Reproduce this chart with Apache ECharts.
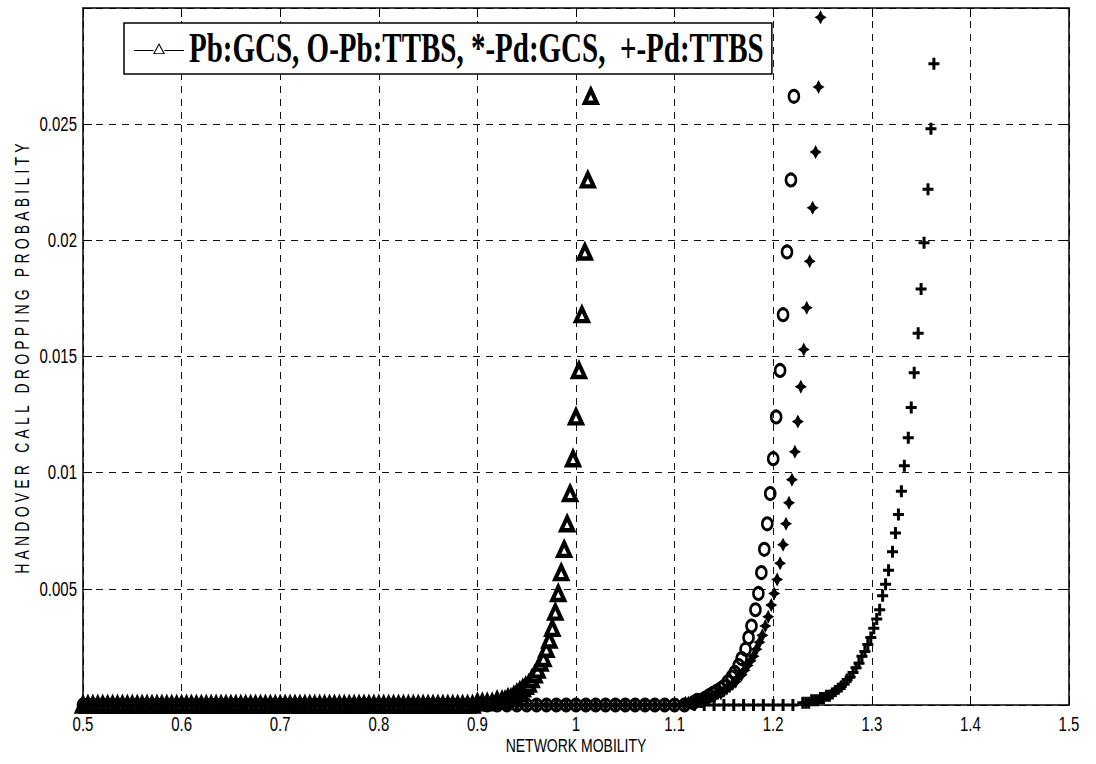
<!DOCTYPE html>
<html>
<head>
<meta charset="utf-8">
<script src="https://cdn.jsdelivr.net/npm/echarts@6/dist/echarts.min.js"></script>
<style>
html,body{margin:0;padding:0;background:#fff;}
#c{width:1096px;height:764px;}
</style>
</head>
<body>
<div id="c"></div>
<script>
// ---------- texts ----------
const xAxisTitle = 'NETWORK MOBILITY';
const yAxisTitle = 'HANDOVER CALL DROPPING PROBABILITY';
const legendText = 'Pb:GCS, O-Pb:TTBS, *-Pd:GCS,  +-Pd:TTBS';
const seriesNames = ['Pb:GCS', 'Pb:TTBS', 'Pd:GCS', 'Pd:TTBS'];

// ---------- axis ticks ----------
const xTicks = [0.5, 0.6, 0.7, 0.8, 0.9, 1.0, 1.1, 1.2, 1.3, 1.4, 1.5];
const yTickLabels = ['0.005', '0.01', '0.015', '0.02', '0.025'];

// ---------- Pb:GCS (triangles) ----------
const pbGcsBaseX = [
  0.500,0.505,0.510,0.515,0.520,0.525,0.530,0.535,0.540,0.545,
  0.550,0.555,0.560,0.565,0.570,0.575,0.580,0.585,0.590,0.595,
  0.600,0.605,0.610,0.615,0.620,0.625,0.630,0.635,0.640,0.645,
  0.650,0.655,0.660,0.665,0.670,0.675,0.680,0.685,0.690,0.695,
  0.700,0.705,0.710,0.715,0.720,0.725,0.730,0.735,0.740,0.745,
  0.750,0.755,0.760,0.765,0.770,0.775,0.780,0.785,0.790,0.795,
  0.800,0.805,0.810,0.815,0.820,0.825,0.830,0.835,0.840,0.845,
  0.850,0.855,0.860,0.865,0.870,0.875,0.880,0.885,0.890,0.895,
  0.900,0.905,0.910,0.915,0.920,0.925
];
const pbGcsBaseY = [
  0,0,0,0,0,0,0,0,0,0,
  0,0,0,0,0,0,0,0,0,0,
  0,0,0,0,0,0,0,0,0,0,
  0,0,0,0,0,0,0,0,0,0,
  0,0,0,0,0,0,0,0,0,0,
  0,0,0,0,0,0,0,0,0,0,
  0,0,0,0,0,0,0,0,0,0,
  0,0,0,0,0,0,0,0,0,0,
  0.0001,0.0001,0.0001,0.0001,0.0002,0.0002
];
const pbGcsRiseX = [
  0.928,0.931,0.934,0.937,0.940,0.943,0.946,0.949,0.952,0.955,
  0.958,0.961,0.964,0.967,0.970,0.973,0.976,0.979,0.982,0.985,
  0.988,0.991,0.994,0.997,1.000,1.003,1.006,1.009,1.012,1.015
];
const pbGcsRiseY = [
  0.0002,0.0003,0.0003,0.0004,0.0005,0.0006,0.0007,0.0008,0.0009,0.0011,
  0.0013,0.0015,0.0018,0.0020,0.0024,0.0028,0.0033,0.0040,0.0048,0.0057,
  0.0067,0.0078,0.0091,0.0106,0.0124,0.0144,0.0168,0.0195,0.0226,0.0262
];

// ---------- shared low (near zero) region for the other three series ----------
const lowX = [
  0.50,0.51,0.52,0.53,0.54,0.55,0.56,0.57,0.58,0.59,
  0.60,0.61,0.62,0.63,0.64,0.65,0.66,0.67,0.68,0.69,
  0.70,0.71,0.72,0.73,0.74,0.75,0.76,0.77,0.78,0.79,
  0.80,0.81,0.82,0.83,0.84,0.85,0.86,0.87,0.88,0.89,
  0.90,0.91,0.92,0.93,0.94,0.95,0.96,0.97,0.98,0.99,
  1.00,1.01,1.02,1.03,1.04,1.05,1.06,1.07,1.08,1.09,
  1.10,1.11,1.12,1.13,1.14,1.15,1.16,1.17,1.18,1.19,
  1.20,1.21,1.22
];
const lowY = [
  0,0,0,0,0,0,0,0,0,0,
  0,0,0,0,0,0,0,0,0,0,
  0,0,0,0,0,0,0,0,0,0,
  0,0,0,0,0,0,0,0,0,0,
  0,0,0,0,0,0,0,0,0,0,
  0,0,0,0,0,0,0,0,0,0,
  0,0,0,0,0,0,0,0,0,0,
  0,0,0
];

// ---------- Pb:TTBS (circles) ----------
const pbTtbsRiseX = [
  1.119,1.123,1.127,1.131,1.135,1.139,1.143,1.147,1.150,1.154,
  1.158,1.161,1.165,1.168,1.172,1.175,1.178,1.182,1.185,1.188,
  1.191,1.194,1.197,1.200,1.203,1.207,1.210,1.214,1.218,1.221
];
const pbTtbsRiseY = [
  0.0001,0.0002,0.0002,0.0003,0.0004,0.0005,0.0006,0.0007,0.0008,0.0010,
  0.0012,0.0014,0.0017,0.0020,0.0024,0.0029,0.0034,0.0041,0.0048,0.0057,
  0.0067,0.0078,0.0091,0.0106,0.0124,0.0144,0.0168,0.0195,0.0226,0.0262
];

// ---------- Pd:GCS (stars) ----------
const pdGcsRiseX = [
  1.111,1.114,1.117,1.120,1.123,1.126,1.129,1.132,1.135,1.138,
  1.141,1.144,1.147,1.150,1.153,1.156,1.159,1.162,1.165,1.168,
  1.171,1.174,1.177,1.180,1.183,1.186,1.189,1.192,1.195,1.198,
  1.201,1.204,1.207,1.210,1.213,1.216,1.219,1.222,1.225,1.228,
  1.231,1.234,1.237,1.240,1.243,1.246,1.248
];
const pdGcsRiseY = [
  0.0001,0.0001,0.0001,0.0001,0.0002,0.0002,0.0002,0.0003,0.0003,0.0004,
  0.0004,0.0005,0.0005,0.0006,0.0007,0.0008,0.0009,0.0010,0.0012,0.0013,
  0.0015,0.0017,0.0019,0.0021,0.0024,0.0027,0.0030,0.0034,0.0038,0.0043,
  0.0048,0.0054,0.0061,0.0069,0.0078,0.0087,0.0097,0.0109,0.0122,0.0137,
  0.0153,0.0171,0.0191,0.0214,0.0238,0.0266,0.0296
];

// ---------- Pd:TTBS (plus) ----------
const pdTtbsRiseX = [
  1.230,1.233,1.236,1.239,1.242,1.245,1.248,1.251,1.254,1.257,
  1.260,1.263,1.266,1.269,1.272,1.275,1.278,1.281,1.284,1.287,
  1.290,1.293,1.296,1.299,1.302,1.305,1.308,1.311,1.314,1.317,
  1.321,1.324,1.327,1.330,1.333,1.337,1.340,1.343,1.347,1.350,
  1.353,1.357,1.360,1.363
];
const pdTtbsRiseY = [
  0.0001,0.0001,0.0001,0.0002,0.0002,0.0002,0.0003,0.0003,0.0004,0.0004,
  0.0005,0.0006,0.0007,0.0008,0.0009,0.0011,0.0012,0.0014,0.0016,0.0018,
  0.0021,0.0023,0.0026,0.0029,0.0033,0.0037,0.0041,0.0047,0.0052,0.0058,
  0.0066,0.0074,0.0082,0.0092,0.0103,0.0115,0.0128,0.0143,0.0160,0.0179,
  0.0199,0.0222,0.0248,0.0276
];

// ---------- build data ----------
function zip(xs, ys) { return xs.map((x, i) => [x, ys[i]]); }
function lowPart(beforeX) {
  return zip(lowX, lowY).filter(p => p[0] < beforeX);
}
const pbGcsData  = zip(pbGcsBaseX, pbGcsBaseY).concat(zip(pbGcsRiseX, pbGcsRiseY));
const pbTtbsData = lowPart(pbTtbsRiseX[0]).concat(zip(pbTtbsRiseX, pbTtbsRiseY));
const pdGcsData  = lowPart(pdGcsRiseX[0]).concat(zip(pdGcsRiseX, pdGcsRiseY));
const pdTtbsData = lowPart(pdTtbsRiseX[0]).concat(zip(pdTtbsRiseX, pdTtbsRiseY));

// ---------- styling ----------
const axisFont = "'Liberation Sans',Arial,sans-serif";
const legendFont = "'Liberation Serif','Times New Roman',serif";
const starPath = 'path://M5,0 L7,4 L10,6 L7,8 L5,12 L3,8 L0,6 L3,4 Z';
const plusPath = 'path://M4,0 H7 V4.5 H11 V7.5 H7 V12 H4 V7.5 H0 V4.5 H4 Z';
const legendIcon = 'path://M0,7 H19.6 V8 H0 Z M30.4,7 H50 V8 H30.4 Z M19,11 L25,0 L31,11 Z M20.7,10.2 L29.3,10.2 L25,2.2 Z';

const axisLineStyle = { color: '#000', width: 1.5 };
const tickStyle = { show: true, inside: true, length: 9, lineStyle: { color: '#000', width: 1 } };
const gridDash = { show: true, lineStyle: { color: '#111', width: 1, type: [7, 6] } };

const chart = echarts.init(document.getElementById('c'), null, { renderer: 'svg' });
const option = {
  animation: false,
  backgroundColor: '#fff',
  grid: { left: 83, right: 27, top: 8, bottom: 59, containLabel: false },
  legend: {
    data: [legendText],
    left: 124, top: 23,
    backgroundColor: '#fff',
    borderColor: '#000', borderWidth: 1.5, borderRadius: 0,
    padding: [11, 8, 11, 10],
    itemWidth: 50, itemHeight: 11, itemGap: 0,
    icon: legendIcon,
    itemStyle: { color: '#000', borderWidth: 0 },
    selectedMode: false,
    textStyle: { fontFamily: legendFont, fontWeight: 'bold', fontSize: 29, color: '#000' }
  },
  xAxis: [
    {
      type: 'value', min: xTicks[0], max: xTicks[xTicks.length - 1], interval: 0.1,
      position: 'bottom',
      name: xAxisTitle, nameLocation: 'middle', nameGap: 33,
      nameTextStyle: { color: '#000', fontFamily: axisFont, fontSize: 14 },
      axisLine: { show: true, onZero: false, lineStyle: axisLineStyle },
      axisTick: tickStyle,
      axisLabel: { color: '#000', fontFamily: axisFont, fontSize: 15, margin: 12 },
      splitLine: gridDash
    },
    {
      type: 'value', min: xTicks[0], max: xTicks[xTicks.length - 1], interval: 0.1,
      position: 'top',
      axisLine: { show: true, onZero: false, lineStyle: axisLineStyle },
      axisTick: tickStyle,
      axisLabel: { show: false },
      splitLine: { show: false }
    }
  ],
  yAxis: [
    {
      type: 'value', min: 0, max: 0.03, interval: 0.005,
      position: 'left',
      name: yAxisTitle, nameLocation: 'middle', nameGap: 54, nameRotate: 90,
      nameTextStyle: { color: '#000', fontFamily: axisFont, fontSize: 14 },
      axisLine: { show: true, onZero: false, lineStyle: axisLineStyle },
      axisTick: tickStyle,
      axisLabel: {
        color: '#000', fontFamily: axisFont, fontSize: 15, margin: 6,
        formatter: v => { const s = String(+v.toFixed(4)); return yTickLabels.indexOf(s) >= 0 ? s : ''; }
      },
      splitLine: gridDash
    },
    {
      type: 'value', min: 0, max: 0.03, interval: 0.005,
      position: 'right',
      axisLine: { show: true, onZero: false, lineStyle: axisLineStyle },
      axisTick: tickStyle,
      axisLabel: { show: false },
      splitLine: { show: false }
    }
  ],
  series: [
    {
      name: legendText, type: 'scatter', clip: false, data: pbGcsData,
      symbol: 'triangle', symbolSize: [12, 13],
      itemStyle: { color: '#fff', borderColor: '#000', borderWidth: 4.2, opacity: 1 }
    },
    {
      name: seriesNames[1], type: 'scatter', clip: false, data: pbTtbsData,
      symbol: 'circle', symbolSize: [10, 12],
      itemStyle: { color: 'rgba(255,255,255,0)', borderColor: '#000', borderWidth: 2.8, opacity: 1 }
    },
    {
      name: seriesNames[2], type: 'scatter', clip: false, data: pdGcsData,
      symbol: starPath, symbolSize: [12, 14],
      itemStyle: { color: '#000', opacity: 1 }
    },
    {
      name: seriesNames[3], type: 'scatter', clip: false, data: pdTtbsData,
      symbol: plusPath, symbolSize: [11, 12],
      itemStyle: { color: '#000', opacity: 1 }
    }
  ]
};
chart.setOption(option);

// The reference's lettering is drawn taller than it is wide; stretch text vertically
function postProcess() {
  document.querySelectorAll('#c svg text').forEach(t => {
    if (t.getAttribute('data-st')) return;
    const s = t.textContent;
    let sy = 1.3;
    if (s === legendText) sy = 1.45;
    else if (s === yAxisTitle) { sy = 1.45; t.style.letterSpacing = '4.2px'; }
    const x = parseFloat(t.getAttribute('x')) || 0;
    const y = parseFloat(t.getAttribute('y')) || 0;
    const T = t.getAttribute('transform') || '';
    t.setAttribute('transform', (T + ' translate(' + x + ',' + y + ') scale(1,' + sy + ') translate(' + (-x) + ',' + (-y) + ')').trim());
    t.setAttribute('data-st', '1');
  });
}
postProcess();
chart.on('finished', postProcess);
</script>
</body>
</html>
